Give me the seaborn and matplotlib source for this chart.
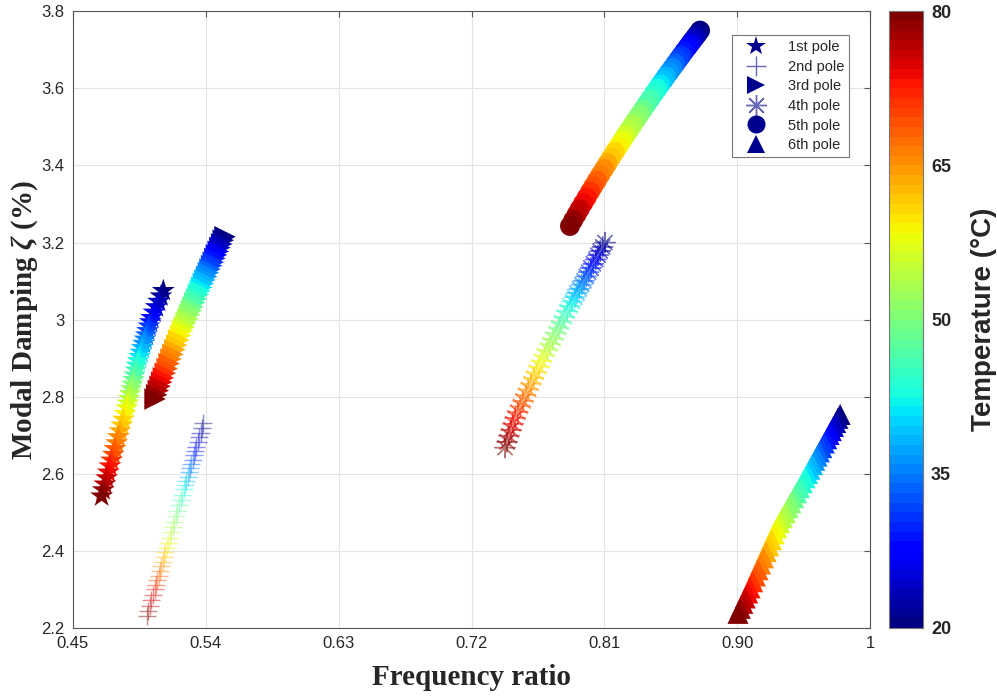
import matplotlib
matplotlib.use("Agg")
import matplotlib.pyplot as plt
from matplotlib.lines import Line2D
import pandas as pd
import seaborn as sns

# ---------------- data ----------------
temperature = [20, 21.5, 23, 24.5, 26, 27.5, 29, 30.5, 32, 33.5, 35, 36.5, 38, 39.5,
               41, 42.5, 44, 45.5, 47, 48.5, 50, 51.5, 53, 54.5, 56, 57.5, 59, 60.5,
               62, 63.5, 65, 66.5, 68, 69.5, 71, 72.5, 74, 75.5, 77, 78.5, 80]

pole1_freq = [0.5112, 0.5096, 0.5080, 0.5065, 0.5049, 0.5033, 0.5024, 0.5015, 0.5006,
              0.4997, 0.4988, 0.4978, 0.4969, 0.4960, 0.4951, 0.4942, 0.4934, 0.4926,
              0.4919, 0.4911, 0.4903, 0.4895, 0.4887, 0.4880, 0.4872, 0.4864, 0.4853,
              0.4841, 0.4830, 0.4818, 0.4807, 0.4796, 0.4784, 0.4773, 0.4761, 0.4750,
              0.4739, 0.4728, 0.4716, 0.4705, 0.4694]
pole1_damp = [3.075, 3.061, 3.047, 3.033, 3.019, 3.005, 2.994, 2.983, 2.971, 2.960,
              2.949, 2.938, 2.927, 2.915, 2.904, 2.893, 2.881, 2.869, 2.856, 2.844,
              2.832, 2.820, 2.808, 2.795, 2.783, 2.771, 2.756, 2.741, 2.726, 2.711,
              2.696, 2.680, 2.665, 2.650, 2.635, 2.620, 2.604, 2.589, 2.573, 2.558,
              2.542]

pole2_freq = [0.5383, 0.5374, 0.5364, 0.5355, 0.5345, 0.5336, 0.5328, 0.5319, 0.5311,
              0.5302, 0.5294, 0.5285, 0.5277, 0.5268, 0.5260, 0.5251, 0.5240, 0.5230,
              0.5219, 0.5208, 0.5198, 0.5187, 0.5176, 0.5165, 0.5155, 0.5144, 0.5135,
              0.5126, 0.5117, 0.5108, 0.5099, 0.5089, 0.5080, 0.5071, 0.5062, 0.5053,
              0.5042, 0.5031, 0.5021, 0.5010, 0.4999]
pole2_damp = [2.732, 2.720, 2.707, 2.695, 2.682, 2.670, 2.659, 2.648, 2.637, 2.626,
              2.615, 2.604, 2.593, 2.582, 2.571, 2.560, 2.546, 2.532, 2.518, 2.504,
              2.490, 2.476, 2.462, 2.448, 2.434, 2.420, 2.408, 2.396, 2.384, 2.372,
              2.360, 2.348, 2.336, 2.324, 2.312, 2.300, 2.286, 2.272, 2.258, 2.244,
              2.230]

pole3_freq = [0.5530, 0.5518, 0.5507, 0.5495, 0.5484, 0.5472, 0.5461, 0.5450, 0.5439,
              0.5428, 0.5417, 0.5405, 0.5394, 0.5383, 0.5372, 0.5361, 0.5349, 0.5337,
              0.5325, 0.5313, 0.5302, 0.5290, 0.5278, 0.5266, 0.5254, 0.5242, 0.5229,
              0.5216, 0.5203, 0.5190, 0.5177, 0.5164, 0.5151, 0.5138, 0.5125, 0.5112,
              0.5101, 0.5090, 0.5078, 0.5067, 0.5056]
pole3_damp = [3.215, 3.206, 3.196, 3.187, 3.177, 3.168, 3.159, 3.149, 3.140, 3.131,
              3.122, 3.112, 3.103, 3.094, 3.084, 3.075, 3.065, 3.054, 3.044, 3.033,
              3.023, 3.013, 3.002, 2.992, 2.981, 2.971, 2.959, 2.947, 2.934, 2.922,
              2.910, 2.898, 2.886, 2.873, 2.861, 2.849, 2.838, 2.827, 2.816, 2.805,
              2.794]

pole4_freq = [0.8104, 0.8088, 0.8072, 0.8057, 0.8041, 0.8025, 0.8009, 0.7993, 0.7978,
              0.7962, 0.7946, 0.7930, 0.7914, 0.7899, 0.7883, 0.7867, 0.7848, 0.7829,
              0.7809, 0.7790, 0.7771, 0.7752, 0.7733, 0.7713, 0.7694, 0.7675, 0.7657,
              0.7639, 0.7621, 0.7603, 0.7585, 0.7567, 0.7549, 0.7531, 0.7513, 0.7495,
              0.7481, 0.7468, 0.7454, 0.7441, 0.7427]
pole4_damp = [3.200, 3.189, 3.178, 3.167, 3.156, 3.145, 3.134, 3.123, 3.112, 3.101,
              3.091, 3.080, 3.069, 3.058, 3.047, 3.036, 3.022, 3.007, 2.993, 2.979,
              2.965, 2.950, 2.936, 2.922, 2.907, 2.893, 2.878, 2.863, 2.849, 2.834,
              2.819, 2.804, 2.789, 2.775, 2.760, 2.745, 2.730, 2.714, 2.699, 2.683,
              2.668]

pole5_freq = [0.8748, 0.8731, 0.8715, 0.8697, 0.8681, 0.8664, 0.8642, 0.8621, 0.8602,
              0.8581, 0.8560, 0.8539, 0.8518, 0.8500, 0.8479, 0.8459, 0.8435, 0.8410,
              0.8386, 0.8361, 0.8338, 0.8313, 0.8290, 0.8266, 0.8243, 0.8220, 0.8194,
              0.8170, 0.8145, 0.8121, 0.8098, 0.8073, 0.8049, 0.8025, 0.8003, 0.7980,
              0.7956, 0.7933, 0.7912, 0.7889, 0.7867]
pole5_damp = [3.750, 3.741, 3.733, 3.724, 3.716, 3.707, 3.696, 3.685, 3.675, 3.664,
              3.653, 3.642, 3.631, 3.621, 3.610, 3.599, 3.586, 3.572, 3.559, 3.545,
              3.532, 3.518, 3.505, 3.491, 3.478, 3.464, 3.449, 3.435, 3.420, 3.405,
              3.391, 3.376, 3.361, 3.346, 3.332, 3.317, 3.302, 3.287, 3.273, 3.258,
              3.243]

pole6_freq = [0.9697, 0.9682, 0.9667, 0.9652, 0.9637, 0.9622, 0.9606, 0.9590, 0.9573,
              0.9557, 0.9541, 0.9525, 0.9509, 0.9492, 0.9476, 0.9460, 0.9441, 0.9422,
              0.9402, 0.9383, 0.9364, 0.9345, 0.9326, 0.9306, 0.9287, 0.9268, 0.9250,
              0.9232, 0.9214, 0.9196, 0.9178, 0.9159, 0.9141, 0.9123, 0.9105, 0.9087,
              0.9071, 0.9054, 0.9038, 0.9021, 0.9005]
pole6_damp = [2.754, 2.744, 2.733, 2.723, 2.712, 2.702, 2.691, 2.680, 2.668, 2.657,
              2.646, 2.635, 2.624, 2.612, 2.601, 2.590, 2.577, 2.564, 2.551, 2.538,
              2.525, 2.512, 2.499, 2.486, 2.473, 2.460, 2.444, 2.429, 2.413, 2.398,
              2.382, 2.366, 2.351, 2.335, 2.320, 2.304, 2.291, 2.278, 2.264, 2.251,
              2.238]

pole_labels = ["1st pole", "2nd pole", "3rd pole", "4th pole", "5th pole", "6th pole"]
x_ticks = [0.45, 0.54, 0.63, 0.72, 0.81, 0.90, 0.99]
x_tick_labels = ["0.45", "0.54", "0.63", "0.72", "0.81", "0.90", "1"]
y_ticks = [2.2, 2.4, 2.6, 2.8, 3.0, 3.2, 3.4, 3.6, 3.8]
y_tick_labels = ["2.2", "2.4", "2.6", "2.8", "3", "3.2", "3.4", "3.6", "3.8"]
cbar_ticks = [20, 35, 50, 65, 80]

# ---------------- styling ----------------
sns.set_theme(style="white")
plt.rcParams["font.family"] = ["Liberation Sans", "DejaVu Sans"]
plt.rcParams["mathtext.fontset"] = "custom"
plt.rcParams["mathtext.it"] = "Liberation Serif:italic:bold"
plt.rcParams["mathtext.rm"] = "Liberation Serif:bold"
plt.rcParams["mathtext.bf"] = "Liberation Serif:bold"

freqs = [pole1_freq, pole2_freq, pole3_freq, pole4_freq, pole5_freq, pole6_freq]
damps = [pole1_damp, pole2_damp, pole3_damp, pole4_damp, pole5_damp, pole6_damp]
markers = ["*", "+", ">", (8, 2, 0), "o", "^"]
sizes = [300, 170, 240, 210, 205, 230]
alphas = [1.0, 0.45, 1.0, 0.55, 1.0, 1.0]
lws = [0, 1.0, 0, 1.0, 0, 0]

cmap = plt.get_cmap("jet", 64)

fig = plt.figure(figsize=(9.97, 6.97), dpi=100)
ax = fig.add_axes([0.0732, 0.0990, 0.7995, 0.8848])
cax = fig.add_axes([0.8917, 0.0990, 0.0338, 0.8848])

for fx, dy, mk, sz, al, lw in zip(freqs, damps, markers, sizes, alphas, lws):
    df = pd.DataFrame({"freq": fx, "damp": dy, "T": temperature})
    kw = dict(x="freq", y="damp", hue="T", palette=cmap, hue_norm=(20, 80),
              marker=mk, s=sz, alpha=al, legend=False, ax=ax, zorder=3)
    if lw == 0:
        kw["linewidth"] = 0
        kw["edgecolor"] = "none"
    else:
        kw["linewidth"] = lw
    sns.scatterplot(data=df, **kw)

ax.set_xlim(0.45, 0.99)
ax.set_ylim(2.2, 3.8)
ax.set_xticks(x_ticks)
ax.set_xticklabels(x_tick_labels)
ax.set_yticks(y_ticks)
ax.set_yticklabels(y_tick_labels)
ax.grid(True, color="#e3e3e3", linewidth=0.8, zorder=0)
ax.set_axisbelow(True)
for sp in ax.spines.values():
    sp.set_color("#555555")
    sp.set_linewidth(0.8)
ax.tick_params(axis="both", direction="in", length=4, width=0.8, color="#555555",
               top=True, right=True, labelsize=12, labelcolor="#262626", pad=6)

ax.set_xlabel("Frequency ratio", fontsize=21, fontweight="bold",
              family=["Liberation Serif", "DejaVu Serif"], color="#262626", labelpad=9)
ax.set_ylabel(r"Modal Damping $\zeta$ (%)", fontsize=21, fontweight="bold",
              family=["Liberation Serif", "DejaVu Serif"], color="#262626", labelpad=1)

# legend
navy = (0.0, 0.0, 0.56)
handles = [
    Line2D([], [], linestyle="none", marker="*", markersize=15, color=navy, markeredgewidth=0),
    Line2D([], [], linestyle="none", marker="+", markersize=15, color=navy, alpha=0.6, markeredgewidth=1),
    Line2D([], [], linestyle="none", marker=">", markersize=13, color=navy, markeredgewidth=0),
    Line2D([], [], linestyle="none", marker=(8, 2, 0), markersize=15, color=navy, alpha=0.6, markeredgewidth=1),
    Line2D([], [], linestyle="none", marker="o", markersize=13, color=navy, markeredgewidth=0),
    Line2D([], [], linestyle="none", marker="^", markersize=13, color=navy, markeredgewidth=0),
]
leg = ax.legend(handles, pole_labels, loc="upper right", bbox_to_anchor=(0.983, 0.973),
                fontsize=10.5, frameon=True, fancybox=False, framealpha=1,
                edgecolor="#777777", handlelength=2.6, handletextpad=0.9,
                labelspacing=0.38, borderpad=0.35)
leg.get_frame().set_linewidth(0.8)

# colorbar
sm = plt.cm.ScalarMappable(cmap=cmap, norm=plt.Normalize(20, 80))
cb = fig.colorbar(sm, cax=cax, ticks=cbar_ticks)
cb.outline.set_edgecolor("#777777")
cb.outline.set_linewidth(0.8)
cax.tick_params(direction="in", length=4, width=0.8, color="#444444", labelsize=13, pad=6)
for t in cax.get_yticklabels():
    t.set_fontweight("bold")
    t.set_color("#262626")
cb.set_label("Temperature (°C)", fontsize=20, fontweight="bold", color="#262626", labelpad=14)

fig.savefig("out.png", dpi=100)
